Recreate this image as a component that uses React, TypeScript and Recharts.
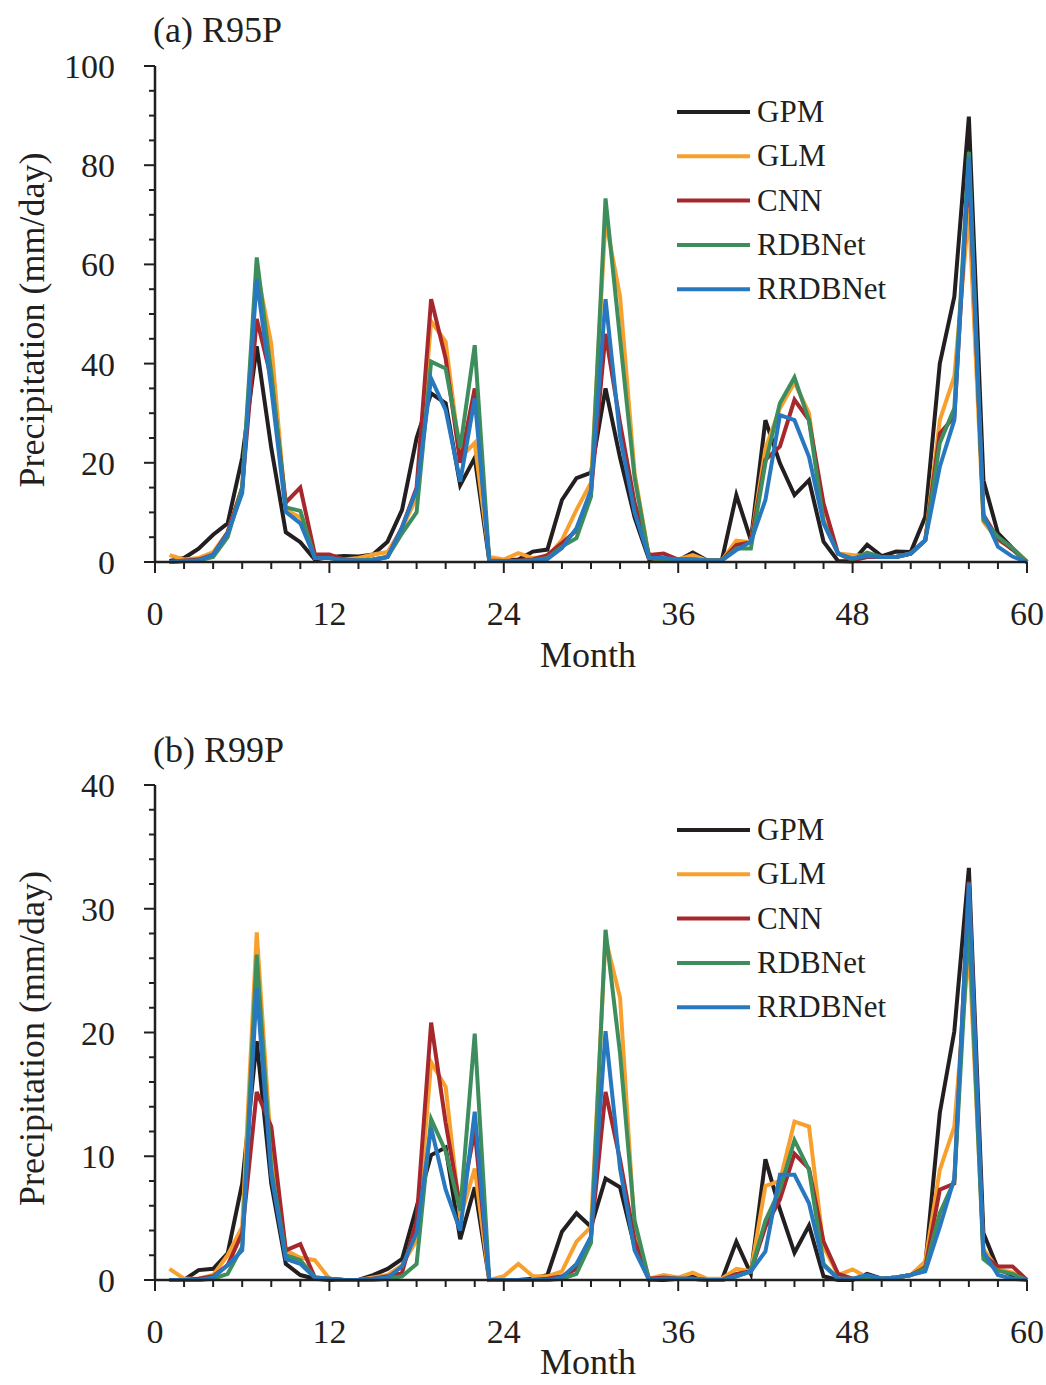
import { Legend, Line, LineChart, XAxis, YAxis } from 'recharts'

const FONT = '"Liberation Serif", "Times New Roman", serif'
const INK = '#231f20'

// Month index 1..60
const months = Array.from({ length: 60 }, (_, i) => i + 1)

// R95P (mm/day)
const gpmR95 = [
  0.2, 0.8, 2.7, 5.5, 7.8, 21, 43.5, 23, 6, 4, 0.5, 1.0,
  1.2, 1.1, 1.5, 4.1, 10.5, 25, 34, 32, 15.5, 21, 0.3, 0.3,
  0.5, 2.1, 2.5, 12.5, 16.9, 18, 35, 21, 9, 0.5, 0.3, 0.3,
  1.9, 0.3, 0.3, 13.5, 4.4, 28.6, 19.9, 13.5, 16.5, 4.1, 0.2, 0.1,
  3.5, 1.2, 2.1, 2.0, 9.1, 40, 53.5, 89.8, 16.5, 5.8, 2.8, 0,
]
const glmR95 = [
  1.4, 0.5, 0.8, 2, 6, 15, 59, 44, 10.5, 9, 1, 1.2,
  0.5, 0.8, 1.5, 2, 6.8, 13, 48.5, 44.4, 21, 24, 1, 0.5,
  1.8, 0.8, 1.1, 4.4, 10.5, 16, 69, 53.5, 18, 0.8, 0.5, 0.5,
  1.4, 0.3, 0.3, 4.3, 4, 22.9, 31, 36.2, 30, 8.5, 1.7, 1.4,
  1.2, 1, 1, 1.7, 4.4, 28.6, 37.4, 71, 8.1, 4.4, 2.8, 0,
]
const cnnR95 = [
  0, 0.3, 0.5, 1.5, 6, 15, 49, 37, 12, 15, 1.5, 1.5,
  0.5, 0.3, 0.5, 1, 7, 15, 53, 41, 20, 35, 0.3, 0.2,
  0.3, 0.5, 1.4, 3.8, 6.4, 14, 46, 28, 12, 1.4, 1.7, 0.5,
  0.5, 0.3, 0.3, 3.4, 4, 20.6, 23.3, 32.7, 28.6, 11.8, 1.7, 0.3,
  1, 1, 1, 1.7, 4.4, 25.9, 29.3, 80, 9.5, 4.7, 2.5, 0,
]
const rdbR95 = [
  0, 0.2, 0.3, 1, 5, 15, 61.4, 38, 11, 10.3, 0.8, 0.8,
  0.3, 0.3, 0.5, 1, 5.8, 10, 40.4, 39, 23, 43.7, 0.2, 0.2,
  0.2, 0.3, 0.8, 3.1, 4.8, 13.2, 73.3, 45, 17, 0.8, 0.5, 0.5,
  0.5, 0.3, 0.3, 2.7, 2.7, 20, 32, 37.2, 28.6, 8.1, 1.7, 0.5,
  1.9, 1, 1, 1.7, 4.4, 24, 31, 82.7, 8.5, 5.1, 2.8, 0,
]
const rrdbR95 = [
  0, 0.2, 0.3, 1.5, 5.7, 13.9, 57, 35, 10.1, 7.8, 0.8, 0.8,
  0.3, 0.3, 0.3, 1, 7, 14.5, 37, 30.6, 16.2, 33, 0.2, 0.2,
  0.2, 0.3, 0.6, 2.8, 6.8, 14.5, 53, 25.3, 10, 0.8, 0.8, 0.5,
  0.5, 0.3, 0.3, 2.4, 4.1, 12.5, 29.6, 28.6, 21.2, 7.8, 1.7, 0.7,
  1.2, 1, 1, 1.7, 4.4, 19.2, 28.6, 81.7, 9.6, 3.1, 1.1, 0,
]

// R99P (mm/day)
const gpmR99 = [
  0, 0, 0.8, 0.9, 2.15, 7.8, 19.3, 7.8, 1.3, 0.4, 0.1, 0,
  0, 0, 0.4, 0.9, 1.7, 5.9, 10.1, 10.7, 3.3, 7.5, 0, 0,
  0, 0.1, 0.4, 3.9, 5.4, 4.3, 8.2, 7.5, 2.7, 0, 0, 0.1,
  0.4, 0, 0, 3.1, 0.5, 9.75, 5.7, 2.2, 4.4, 0.3, 0, 0,
  0.5, 0.1, 0.2, 0.4, 1.2, 13.5, 20.1, 33.3, 3.8, 0.9, 0.4, 0,
]
const glmR99 = [
  0.9, 0.1, 0.1, 0.4, 2, 4.3, 28.1, 10.3, 2.4, 1.8, 1.6, 0.1,
  0, 0, 0.2, 0.4, 1.2, 3.2, 17.6, 15.6, 5, 9, 0, 0.3,
  1.3, 0.3, 0.3, 0.7, 3.1, 4.3, 27.6, 22.8, 4, 0.1, 0.4, 0.2,
  0.6, 0.1, 0.1, 0.9, 0.7, 7.6, 8.0, 12.8, 12.4, 2.7, 0.4, 0.86,
  0.2, 0.1, 0.2, 0.4, 1.5, 8.9, 12.4, 27, 2.5, 0.9, 0.6, 0,
]
const cnnR99 = [
  0, 0, 0.1, 0.3, 1.2, 3.8, 15.2, 12.4, 2.4, 2.9, 0.2, 0.1,
  0, 0, 0.1, 0.3, 0.6, 4.8, 20.8, 12.7, 5.9, 12.1, 0, 0,
  0, 0, 0.1, 0.3, 0.9, 3.5, 15.2, 9.7, 3.2, 0.1, 0.2, 0.1,
  0.1, 0, 0, 0.5, 0.7, 4.3, 6.5, 10.2, 9, 3.1, 0.5, 0.1,
  0.1, 0.1, 0.2, 0.4, 1, 7.3, 7.8, 32.2, 2, 1.1, 1.1, 0,
]
const rdbR99 = [
  0, 0, 0, 0.1, 0.5, 2.7, 26.3, 9, 2, 1.6, 0.2, 0.1,
  0, 0, 0, 0.1, 0.3, 1.3, 13, 10.4, 5.6, 19.9, 0, 0,
  0, 0, 0, 0.1, 0.5, 3, 28.3, 18.3, 4.8, 0, 0.1, 0.1,
  0.1, 0, 0, 0.3, 0.7, 4.8, 7.3, 11.3, 8.9, 1.3, 0.1, 0.1,
  0.2, 0.1, 0.2, 0.4, 0.9, 5.4, 8, 29, 1.7, 0.75, 0.5, 0,
]
const rrdbR99 = [
  0, 0, 0, 0.2, 1.2, 2.4, 23.6, 8.5, 1.7, 1.3, 0.2, 0.1,
  0, 0, 0.1, 0.2, 1.1, 3.8, 12.3, 7.3, 4, 13.6, 0, 0,
  0, 0, 0, 0.2, 1.3, 3.5, 20.1, 9, 2.4, 0, 0.1, 0.1,
  0.1, 0, 0, 0.3, 0.7, 2.3, 8.5, 8.5, 6.2, 1.2, 0.1, 0.1,
  0.4, 0.1, 0.2, 0.4, 0.7, 4.3, 8.2, 32.1, 2.3, 0.4, 0.1, 0,
]

const xTicks = Array.from({ length: 31 }, (_, i) => i * 2)
const yTicksR95 = Array.from({ length: 21 }, (_, i) => i * 5)
const yTicksR99 = Array.from({ length: 21 }, (_, i) => i * 2)

// drawn in this order, RRDBNet ends up on top
const SERIES = [
  { key: 'GPM', color: '#231f20' },
  { key: 'GLM', color: '#f8a02e' },
  { key: 'CNN', color: '#a6282c' },
  { key: 'RDBNet', color: '#3e8e5d' },
  { key: 'RRDBNet', color: '#2878c0' },
]

function buildRows(gpm: number[], glm: number[], cnn: number[], rdb: number[], rrdb: number[]) {
  return months.map((m, i) => ({
    month: m,
    GPM: gpm[i],
    GLM: glm[i],
    CNN: cnn[i],
    RDBNet: rdb[i],
    RRDBNet: rrdb[i],
  }))
}

const rowsR95 = buildRows(gpmR95, glmR95, cnnR95, rdbR95, rrdbR95)
const rowsR99 = buildRows(gpmR99, glmR99, cnnR99, rdbR99, rrdbR99)

function XTick(props: any) {
  const { x, y, payload } = props
  const v = payload.value as number
  const major = v % 12 === 0
  return (
    <g>
      <line x1={x} x2={x} y1={y} y2={y + (major ? 11 : 7)} stroke={INK} strokeWidth={2} />
      {major ? (
        <text x={x} y={y + 63} textAnchor="middle" fontFamily={FONT} fontSize={34} fill={INK}>
          {v}
        </text>
      ) : null}
    </g>
  )
}

function YTick(props: any) {
  const { x, y, payload, step } = props
  const v = payload.value as number
  const major = v % step === 0
  return (
    <g>
      <line x1={x - (major ? 11 : 6)} x2={x} y1={y} y2={y} stroke={INK} strokeWidth={2} />
      {major ? (
        <text x={x - 40} y={y + 12} textAnchor="end" fontFamily={FONT} fontSize={34} fill={INK}>
          {v}
        </text>
      ) : null}
    </g>
  )
}

function YTitle(props: any) {
  const { viewBox } = props
  const cy = viewBox.y + viewBox.height / 2 + 6
  return (
    <text
      x={32}
      y={cy}
      transform={`rotate(-90, 32, ${cy})`}
      textAnchor="middle"
      dominantBaseline="central"
      fontFamily={FONT}
      fontSize={36}
      fill={INK}
    >
      Precipitation (mm/day)
    </text>
  )
}

function XTitle(props: any) {
  const { viewBox, dy } = props
  return (
    <text
      x={viewBox.x + viewBox.width / 2 - 3}
      y={viewBox.y + dy}
      textAnchor="middle"
      fontFamily={FONT}
      fontSize={36}
      fill={INK}
    >
      Month
    </text>
  )
}

function LegendBox() {
  return (
    <svg width={240} height={225}>
      {SERIES.map((s, i) => {
        const cy = 22 + i * 44.3
        return (
          <g key={s.key}>
            <line x1={0} x2={73} y1={cy} y2={cy} stroke={s.color} strokeWidth={4} />
            <text x={80} y={cy + 10} fontFamily={FONT} fontSize={31} fill={INK}>
              {s.key}
            </text>
          </g>
        )
      })}
    </svg>
  )
}

interface PanelProps {
  top: number
  height: number
  plotTop: number
  bottom: number
  title: string
  rows: Array<Record<string, number>>
  yMax: number
  yTicks: number[]
  yStep: number
  legendTop: number
  xTitleDy: number
}

function Panel({ top, height, plotTop, bottom, title, rows, yMax, yTicks, yStep, legendTop, xTitleDy }: PanelProps) {
  return (
    <div style={{ position: 'absolute', left: 0, top, width: 1046, height }}>
      <div
        style={{
          position: 'absolute',
          left: 153,
          top: 12,
          fontFamily: FONT,
          fontSize: 36,
          lineHeight: '36px',
          color: INK,
          zIndex: 2,
        }}
      >
        {title}
      </div>
      <LineChart
        width={1046}
        height={height}
        data={rows}
        margin={{ top: plotTop, right: 19, bottom, left: 95 }}
      >
        <XAxis
          type="number"
          dataKey="month"
          domain={[0, 60]}
          ticks={xTicks}
          interval={0}
          height={60}
          tickSize={0}
          tickMargin={0}
          tickLine={false}
          axisLine={{ stroke: INK, strokeWidth: 2.5 }}
          tick={<XTick />}
          label={<XTitle dy={xTitleDy} />}
        />
        <YAxis
          type="number"
          domain={[0, yMax]}
          ticks={yTicks}
          interval={0}
          width={60}
          tickSize={0}
          tickMargin={0}
          tickLine={false}
          axisLine={{ stroke: INK, strokeWidth: 2.5 }}
          tick={<YTick step={yStep} />}
          label={<YTitle />}
        />
        <Legend
          layout="vertical"
          align="center"
          verticalAlign="middle"
          wrapperStyle={{ top: legendTop, left: 677, width: 240, height: 225 }}
          content={() => <LegendBox />}
        />
        {SERIES.map((s) => (
          <Line
            key={s.key}
            type="linear"
            dataKey={s.key}
            stroke={s.color}
            strokeWidth={4}
            dot={false}
            activeDot={false}
            isAnimationActive={false}
          />
        ))}
      </LineChart>
    </div>
  )
}

export default function App() {
  return (
    <div
      style={{
        position: 'absolute',
        left: 0,
        top: 0,
        width: 1046,
        height: 1385,
        background: '#ffffff',
        overflow: 'hidden',
      }}
    >
      <Panel
        top={0}
        height={720}
        plotTop={66}
        bottom={98}
        title="(a) R95P"
        rows={rowsR95}
        yMax={100}
        yTicks={yTicksR95}
        yStep={20}
        legendTop={90}
        xTitleDy={105}
      />
      <Panel
        top={720}
        height={665}
        plotTop={65}
        bottom={45}
        title="(b) R99P"
        rows={rowsR99}
        yMax={40}
        yTicks={yTicksR99}
        yStep={10}
        legendTop={88}
        xTitleDy={94}
      />
    </div>
  )
}
